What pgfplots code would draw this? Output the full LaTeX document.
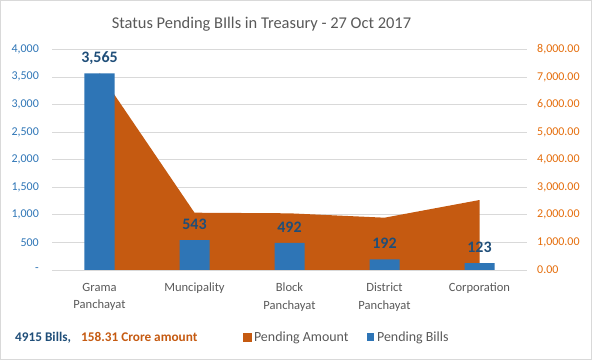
\documentclass[border=0pt]{standalone}
\usepackage{fontspec}
\setmainfont{Carlito}
\usepackage{pgfplots}
\pgfplotsset{compat=1.18}
\definecolor{barc}{HTML}{2E75B6}
\definecolor{areac}{HTML}{C55A11}
\definecolor{gridc}{HTML}{D9D9D9}
\definecolor{titlec}{HTML}{595959}
\definecolor{ltick}{HTML}{2E75B6}
\definecolor{rtick}{HTML}{E46C0A}
\definecolor{labc}{HTML}{1F4E79}
\definecolor{borderc}{HTML}{D9D9D9}
\begin{document}
\begin{tikzpicture}
\path[draw=borderc, line width=1bp] (0.5bp,0.5bp) rectangle (591.5bp,359.5bp);
\begin{axis}[
  at={(52bp,90bp)}, anchor=south west, scale only axis,
  width=475bp, height=220.7bp,
  xmin=-0.5, xmax=4.5, ymin=0, ymax=8000,
  axis line style={draw=none}, tick style={draw=none}, major tick length=0pt,
  ymajorgrids, grid style={draw=gridc, line width=0.75bp},
  ytick={0,1000,...,8000},
  yticklabels={{0.00},{1,000.00},{2,000.00},{3,000.00},{4,000.00},{5,000.00},{6,000.00},{7,000.00},{8,000.00}},
  yticklabel pos=right,
  yticklabel style={font=\fontsize{12}{12}\selectfont, text=rtick, anchor=west, inner sep=0pt, xshift=10bp},
  xtick={0,1,2,3,4},
  xtick pos=bottom,
  xticklabels={{Grama\\Panchayat},{Muncipality},{Block\\Panchayat},{District\\Panchayat},{Corporation}},
  xticklabel style={font=\fontsize{12.6}{17.7}\selectfont, text=titlec, align=center, anchor=north, inner sep=0pt, yshift=-13bp},
]
\addplot[fill=areac, draw=none] coordinates {(0,7150) (1,2077) (2,2055) (3,1896) (4,2537)} \closedcycle;
\end{axis}
\begin{axis}[
  at={(52bp,90bp)}, anchor=south west, scale only axis,
  width=475bp, height=220.7bp,
  xmin=-0.5, xmax=4.5, ymin=0, ymax=4000,
  axis line style={draw=none}, tick style={draw=none}, major tick length=0pt,
  xtick=\empty,
  ytick={0,500,...,4000},
  yticklabels={{-\hspace{6bp}},{500},{1,000},{1,500},{2,000},{2,500},{3,000},{3,500},{4,000}},
  yticklabel pos=left,
  yticklabel style={font=\fontsize{12}{12}\selectfont, text=ltick, anchor=east, inner sep=0pt, xshift=-13bp},
  /pgf/number format/1000 sep={,},
  /pgf/number format/assume math mode=true,
  legend style={at={(0.402,-0.3036)}, anchor=west, draw=none, fill=none, inner sep=0pt,
    font=\fontsize{14}{14}\selectfont, text=titlec,
    nodes={inner sep=0pt},
    /tikz/every odd column/.append style={column sep=3bp},
    /tikz/every even column/.append style={column sep=18bp}},
  legend columns=2,
]
\addlegendimage{legend image code/.code={\fill[areac] (0bp,-3.7bp) rectangle (7.5bp,3.7bp);}}
\addlegendentry{Pending Amount}
\addplot[ybar, bar width=30bp, bar shift=0pt, fill=barc, draw=none,
  nodes near coords,
  nodes near coords style={font=\bfseries\fontsize{16}{16}\selectfont, text=labc, anchor=base, inner sep=0pt, yshift=10.5bp},
  legend image code/.code={\fill[barc] (0bp,-3.7bp) rectangle (7.5bp,3.7bp);}]
  coordinates {(0,3565) (1,543) (2,492) (3,192) (4,123)};
\addlegendentry{Pending Bills}
\end{axis}
\node[anchor=base, font=\fontsize{16.5}{16.5}\selectfont, text=titlec] at (261.5bp,331.7bp) {Status Pending BIlls in Treasury - 27 Oct 2017};
\node[anchor=base west, inner sep=0pt, font=\bfseries\fontsize{13.3}{13.3}\selectfont, text=labc] at (15bp,19bp) {4915 Bills,};
\node[anchor=base west, inner sep=0pt, font=\bfseries\fontsize{13.3}{13.3}\selectfont, text=areac] at (81bp,19bp) {158.31 Crore amount};
\end{tikzpicture}
\end{document}
